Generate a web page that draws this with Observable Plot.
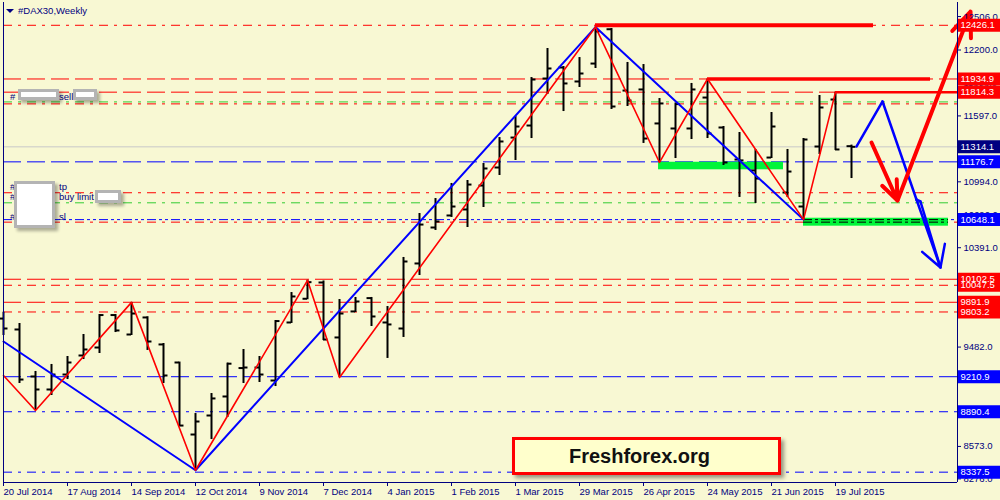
<!DOCTYPE html>
<html><head><meta charset="utf-8">
<script src="https://cdn.jsdelivr.net/npm/d3@7"></script>
<script src="https://cdn.jsdelivr.net/npm/@observablehq/plot@0.6"></script>
<style>
body{margin:0;background:#F8F8D3;}
#wrap{position:relative;width:1000px;height:500px;overflow:hidden;font-family:"Liberation Sans",Arial,sans-serif;}
.t{position:absolute;font-size:9.5px;line-height:12px;color:#000080;white-space:nowrap;}
.wb{position:absolute;background:#fff;border:3px solid #B4B4B4;box-sizing:border-box;box-shadow:3px 3px 3px rgba(0,0,0,.3);}
#brand{position:absolute;left:512px;top:437px;width:269px;height:38px;box-sizing:border-box;border:3px solid #FF0000;background:#FFFFCC;box-shadow:3px 3px 4px rgba(0,0,0,.4);font:bold 20px "Liberation Sans",Arial,sans-serif;line-height:32px;text-align:center;padding-right:14px;color:#111;}
#tri{position:absolute;left:6px;top:9px;width:0;height:0;border-left:4px solid transparent;border-right:4px solid transparent;border-top:4px solid #000080;}
</style></head>
<body><div id="wrap"></div>
<script>
// ---- weekly OHLC (week index 0 = 20 Jul 2014) ----
const weeks  = d3.range(54);
const opens  = [9743,9643,9213,9094,9231,9405,9478,9775,9597,9753,9506,9341,8682,8856,9030,9290,9295,9176,9707,9924,10073,9570,9808,9930,9707,9652,10247,10576,10686,10741,10960,11125,11399,11509,11939,12040,11912,12076,12390,11829,11839,11528,11482,11482,11765,11491,11198,11098,11216,10896,10768,11317,11747,11320];
const highs  = [9801,9698,9259,9323,9396,9597,9780,9780,9891,9760,9515,9345,8874,9057,9335,9460,9396,9725,9981,10093,10087,9917,9936,9936,9853,10302,10704,10841,10979,11006,11162,11399,11592,11948,12214,12049,12131,12410,12397,12086,12067,11756,11715,11894,11934.9,11500,11445,11290,11628,11290,11390,11784,11814.3,11330];
const lows   = [9588,9149,8902,9039,9185,9368,9423,9615,9588,9451,9149,8755,8355,8636,8838,9149,9158,9121,9698,9915,9542,9204,9798,9670,9378,9570,10137,10549,10668,10576,10759,11052,11189,11390,11793,11637,11857,12031,11656,11683,11345,11171,11207,11381,11390,11143,10851,10796,11207,10851,10648.1,11244,11281,11024];
const closes = [9652,9185,9094,9231,9341,9460,9775,9634,9789,9533,9222,8764,8801,9012,9330,9295,9231,9720,9945,10076,9551,9789,9899,9762,9689,10265,10603,10631,10768,10969,11116,11363,11500,11930,12031,11894,11985,12370,11683,11738,11390,11711,11705,11839,11436,11171,11190,11024,11500,11088,11381,11674,11290,11314.1];

// ---- axis ticks ----
const dateTickWeeks  = [0,4,8,12,16,20,24,28,32,36,40,44,48,52];
const dateTickLabels = ["20 Jul 2014","17 Aug 2014","14 Sep 2014","12 Oct 2014","9 Nov 2014","7 Dec 2014","4 Jan 2015","1 Feb 2015","1 Mar 2015","29 Mar 2015","26 Apr 2015","24 May 2015","21 Jun 2015","19 Jul 2015"];
const priceTicks = [12506,12200,11898,11597,11295,10994,10690,10391,10089,9785,9482,9185,8876,8573,8276];

// ---- zigzags ----
const redZigWeeks  = [0,2,8,12,19,21,37,41,44,50,52];
const redZigPrices = [9222,8902,9891,8355,10093,9204,12410,11171,11934.9,10648.1,11814.3];
const blueZigWeeks  = [0,12,37,50];
const blueZigPrices = [9533,8355,12410,10648.1];

// ---- horizontal levels ----
const levelPrices = [12426.1,11934.9,11814.3,11725,11707,11314.1,11176.7,10894,10802,10648.1,10625,10102.5,10047.5,9891.9,9803.2,9210.9,8890.4,8337.5];
const levelColors = ["#FF0000","#FF0000","#FF0000","#33CC33","#FF0000","#C8C8C8","#0000FF","#FF0000","#33CC33","#0000FF","#FF0000","#FF0000","#FF0000","#FF0000","#FF0000","#0000FF","#0000FF","#0000FF"];
const levelStyles = ["dashdot","dash","dash","dashdot","dashdot","solid","dash","dashdot","dashdot","dashdotdot","dashdot","dash","dashdot","dash","dashdot","dash","dashdot","dashdot"];

// price labels on the right axis (drawing order)
const labelPrices = [12426.1,11934.9,11814.3,11314.1,11176.7,10648.1,10047.5,10102.5,9891.9,9803.2,9210.9,8890.4,8337.5];
const labelColors = ["#FF0000","#FF0000","#FF0000","#000080","#0000FF","#0000FF","#FF0000","#FF0000","#FF0000","#FF0000","#0000FF","#0000FF","#0000FF"];

// thick red resistance segments
const thickPrices = [12426.1,11934.9,11814.3];
const thickFrom   = [37,44,52];
const thickTo     = [54.375,57.94,59.625];
const thickWidths = [4,3.5,2.5];

// green zones
const zoneFrom = [40.94,50];
const zoneTo   = [48.75,59.06];
const zoneTop  = [11173,10661];
const zoneBot  = [11104,10588];

// forecast paths
const blueFcWeeks  = [53.31,54.94,57.06,57.31,58.56];
const blueFcPrices = [11317,11729,10832,10814,10210];
const redArrowWeeks  = [[54.25,55.875],[55.875,60.44]];
const redArrowPrices = [[11354,10823],[10823,12552]];

// ---------- build ----------
const xMax = 59.625;
const yDom = [8243, 12634.6];
const bars = weeks.map((w,i)=>({w, open:opens[i], high:highs[i], low:lows[i], close:closes[i]}));
const redZig = redZigWeeks.map((w,i)=>({w, p:redZigPrices[i]}));
const blueZig = blueZigWeeks.map((w,i)=>({w, p:blueZigPrices[i]}));
const levels = levelPrices.map((p,i)=>({p, color:levelColors[i], style:levelStyles[i]}));
const labels = labelPrices.map((p,i)=>({p, bg:labelColors[i]}));
const thick = thickPrices.map((p,i)=>({p, x1:thickFrom[i], x2:thickTo[i], sw:thickWidths[i]}));
const zones = zoneFrom.map((x1,i)=>({x1, x2:zoneTo[i], y1:zoneBot[i], y2:zoneTop[i]}));
// forecast polyline as consecutive segments
const blueSegs = d3.pairs(blueFcWeeks.map((w,i)=>({w, p:blueFcPrices[i]}))).map(([a,b])=>({x1:a.w, y1:a.p, x2:b.w, y2:b.p}));
const nB = blueFcWeeks.length;
const blueArrow = [{x1:blueFcWeeks[nB-3], y1:blueFcPrices[nB-3], x2:blueFcWeeks[nB-1], y2:blueFcPrices[nB-1]}];
const redArrows = redArrowWeeks.map((ws,i)=>({x1:ws[0], x2:ws[1], y1:redArrowPrices[i][0], y2:redArrowPrices[i][1]}));
// level lines that cross the lower green zone appear black
const zoneOverlay = [];
zones.forEach(z => levels.forEach(l => { if (l.p <= z.y2 && l.p >= z.y1 && l.style !== "solid") zoneOverlay.push({p:l.p, x1:z.x1, x2:z.x2}); }));

const dashes = {dash:"18,6", dashdot:"9,6,3,6", dashdotdot:"9,3,3,3,3,3", solid:null};
const levelMarks = Object.keys(dashes).map(s =>
  Plot.ruleY(levels.filter(l=>l.style===s), {y:"p", stroke:d=>d.color, strokeWidth:1, strokeDasharray: dashes[s] || undefined}));

const dateMap = new Map(dateTickWeeks.map((w,i)=>[w, dateTickLabels[i]]));

const chart = Plot.plot({
  width:1000, height:500,
  marginLeft:3, marginRight:43, marginTop:2, marginBottom:18,
  x:{domain:[0,xMax]},
  y:{domain:yDom},
  color:{type:"identity"},
  style:{background:"#F8F8D3", color:"#000080", fontFamily:"'Liberation Sans',Arial,sans-serif", fontSize:"9.5px", overflow:"visible"},
  marks:[
    ...levelMarks,
    Plot.rect(zones, {x1:"x1", x2:"x2", y1:"y1", y2:"y2", fill:"#00F53A", ariaLabel:"shadowed"}),
    Plot.ruleY(zoneOverlay, {y:"p", x1:"x1", x2:"x2", stroke:"#000", strokeDasharray:"9,3,3,3"}),
    // OHLC bars
    Plot.ruleX(bars, {x:"w", y1:"low", y2:"high", stroke:"#000", strokeWidth:2}),
    Plot.ruleY(bars, {y:"open", x1:d=>d.w-0.28, x2:d=>d.w, stroke:"#000", strokeWidth:2}),
    Plot.ruleY(bars, {y:"close", x1:d=>d.w, x2:d=>d.w+0.28, stroke:"#000", strokeWidth:2}),
    // zigzags
    Plot.line(blueZig, {x:"w", y:"p", stroke:"#0000FF", strokeWidth:2}),
    Plot.line(redZig, {x:"w", y:"p", stroke:"#FF0000", strokeWidth:1.6}),
    // thick resistance
    Plot.ruleY(thick, {y:"p", x1:"x1", x2:"x2", stroke:"#FF0000", strokeWidth:"sw", ariaLabel:"shadowed"}),
    // forecast
    Plot.link(blueSegs, {x1:"x1", y1:"y1", x2:"x2", y2:"y2", stroke:"#0000FF", strokeWidth:2.5, strokeLinecap:"round", ariaLabel:"shadowed"}),
    Plot.arrow(blueArrow, {x1:"x1", y1:"y1", x2:"x2", y2:"y2", stroke:"#0000FF", strokeWidth:2.5, headLength:16, headAngle:60, ariaLabel:"shadowed"}),
    Plot.arrow(redArrows, {x1:"x1", y1:"y1", x2:"x2", y2:"y2", stroke:"#FF0000", strokeWidth:4, headLength:10, headAngle:44, strokeLinejoin:"miter", ariaLabel:"shadowed"}),
    // axes
    Plot.axisX(dateTickWeeks, {anchor:"bottom", tickSize:4, tickPadding:2, textAnchor:"start", tickFormat:d=>dateMap.get(d), label:null}),
    Plot.axisY(priceTicks, {anchor:"right", tickSize:3, tickPadding:3, tickFormat:d=>d.toFixed(1), label:null}),
    // price labels
    Plot.ruleY(labels, {y:"p", x1:xMax, x2:xMax+2.7, stroke:d=>d.bg, strokeWidth:13}),
    Plot.text(labels, {y:"p", x:xMax, dx:3, text:d=>d.p.toFixed(1), fill:"#fff", textAnchor:"start"}),
    // frame (left, right, bottom)
    Plot.ruleX([0, xMax], {stroke:"#000080"}),
    Plot.ruleY([yDom[0]], {stroke:"#000080"})
  ]
});

const svg = d3.select(chart);
const f = svg.insert("defs", ":first-child").append("filter").attr("id","sh")
  .attr("filterUnits","userSpaceOnUse").attr("x",0).attr("y",0).attr("width",1000).attr("height",500);
f.append("feDropShadow").attr("dx",3).attr("dy",3).attr("stdDeviation",2).attr("flood-color","#000").attr("flood-opacity",0.3);
svg.selectAll('g[aria-label="shadowed"]').attr("filter","url(#sh)");

const wrap = document.getElementById("wrap");
wrap.appendChild(chart);
wrap.insertAdjacentHTML("beforeend", `
<div id="tri"></div>
<div class="t" style="left:18px;top:5px">#DAX30,Weekly</div>
<div class="t" style="left:10px;top:91px">#</div>
<div class="wb" style="left:18px;top:89px;width:41px;height:11px"></div>
<div class="t" style="left:59px;top:91px">sell</div>
<div class="wb" style="left:73px;top:89px;width:24px;height:11px"></div>
<div class="t" style="left:10px;top:181px">#</div>
<div class="t" style="left:10px;top:191px">#</div>
<div class="t" style="left:10px;top:211px">#</div>
<div class="wb" style="left:14px;top:181px;width:41px;height:47px"></div>
<div class="t" style="left:59px;top:181px">tp</div>
<div class="t" style="left:59px;top:191px">buy limit</div>
<div class="t" style="left:59px;top:211px">sl</div>
<div class="wb" style="left:95px;top:190px;width:26px;height:13px"></div>
<div id="brand">Freshforex.org</div>
`);
</script>
</body></html>
